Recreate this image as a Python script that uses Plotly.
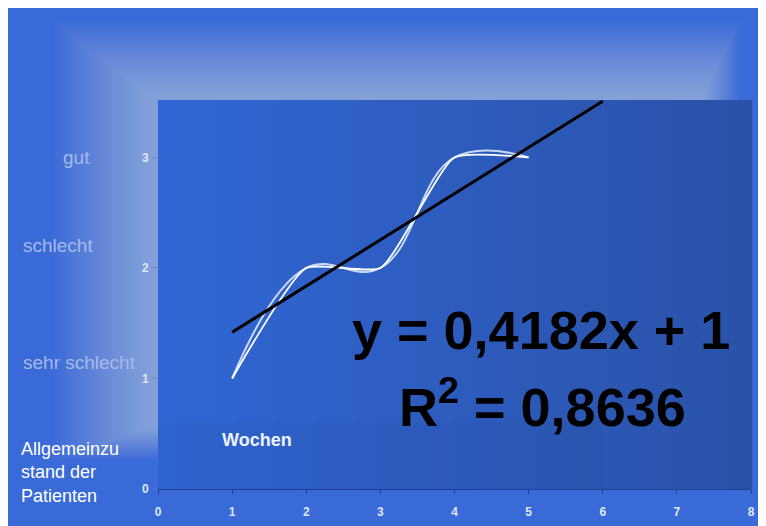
import plotly.graph_objects as go

# ---- data ----
weeks = [1, 2, 3, 4, 5]
condition = [1, 2, 2, 3, 3]
trend_x = [1, 6]
slope, intercept = 0.4182, 1
trend_y = [slope * v + intercept for v in trend_x]
x_ticks = [0, 1, 2, 3, 4, 5, 6, 7, 8]
y_ticks = [0, 1, 2, 3]
state_labels = ["gut", "schlecht", "sehr schlecht"]
equation_text = "y = 0,4182x + 1"
r2_text = "R<sup>2</sup> = 0,8636"

OFF = 8                      # page body margin
W, H = 766 - OFF, 526 - OFF  # figure size
PL, PR, PT, PB = 158, 751, 100, 489   # plot area in screen pixels
L, T = PL - OFF, PT - OFF
R, B = W - (PR - OFF), H - (PB - OFF)
PW, PH = PR - PL, PB - PT


def px(x):
    return (x - PL) / PW


def py(y):
    return (PB - y) / PH


def lerp(c1, c2, t):
    a = [int(c1[i:i + 2], 16) for i in (1, 3, 5)]
    b = [int(c2[i:i + 2], 16) for i in (1, 3, 5)]
    return "#" + "".join(f"{round(a[k] + (b[k] - a[k]) * t):02x}" for k in range(3))


shapes = []
# slide background
shapes.append(dict(type="rect", xref="paper", yref="paper", x0=px(0), x1=px(800),
                   y0=py(0), y1=py(560), fillcolor="#3a6ad8", line_width=0, layer="below"))
# halo glow above / left of plot area
N = 30
for i in range(N):
    t = (i + 1) / N
    shapes.append(dict(type="rect", xref="paper", yref="paper",
                       x0=px(158 - 105 * t), x1=px(700 + 40 * t),
                       y0=py(100 - 80 * t), y1=py(425 + 35 * t),
                       fillcolor="#ffffff", opacity=0.018, line_width=0, layer="below"))
# plot area horizontal gradient
S = 30
for i in range(S):
    t = i / (S - 1)
    shapes.append(dict(type="rect", xref="paper", yref="paper",
                       x0=i / S, x1=(i + 1) / S + 0.002, y0=0, y1=1,
                       fillcolor=lerp("#3166d4", "#2a52a8", t), line_width=0, layer="below"))
# darker band at bottom of plot area
shapes.append(dict(type="rect", xref="paper", yref="paper", x0=0, x1=0.75, y0=0, y1=py(422),
                   fillcolor="#1a3a90", opacity=0.08, line_width=0, layer="below"))

fig = go.Figure()
fig.add_trace(go.Scatter(x=weeks, y=condition, mode="lines",
                         line=dict(color="#c9d8f6", width=2, shape="spline", smoothing=1.2),
                         hoverinfo="skip"))
fig.add_trace(go.Scatter(x=weeks, y=condition, mode="lines",
                         line=dict(color="#ffffff", width=1.8, shape="spline", smoothing=0.5),
                         hoverinfo="skip"))
fig.add_trace(go.Scatter(x=trend_x, y=trend_y, mode="lines",
                         line=dict(color="#000000", width=3), hoverinfo="skip"))

annotations = []
for lab, (xx, yy) in zip(state_labels, [(76, 157), (58, 245), (79, 362)]):
    annotations.append(dict(text=lab, xref="paper", yref="paper", x=px(xx), y=py(yy),
                            xanchor="center", yanchor="middle", showarrow=False,
                            font=dict(family="Liberation Sans, Arial", size=19, color="#a6b9ea")))
annotations.append(dict(text="Allgemeinzu<br>stand der<br>Patienten", xref="paper", yref="paper",
                        x=px(19), y=py(472), xanchor="left", yanchor="middle", align="left",
                        showarrow=False,
                        font=dict(family="Liberation Sans, Arial", size=18, color="#ffffff")))
annotations.append(dict(text="<b>Wochen</b>", xref="paper", yref="paper", x=px(257), y=py(440),
                        xanchor="center", yanchor="middle", showarrow=False,
                        font=dict(family="Liberation Sans, Arial", size=18, color="#eef3ff")))
annotations.append(dict(text=f"<b>{equation_text}</b>", xref="paper", yref="paper",
                        x=px(541), y=py(330), xanchor="center", yanchor="middle", showarrow=False,
                        font=dict(family="Liberation Sans, Arial", size=54, color="#000000")))
annotations.append(dict(text=f"<b>{r2_text}</b>", xref="paper", yref="paper",
                        x=px(542), y=py(403), xanchor="center", yanchor="middle", showarrow=False,
                        font=dict(family="Liberation Sans, Arial", size=54, color="#000000")))

tickfont = dict(family="Liberation Sans, Arial", size=12, color="#dfe7fb", weight="bold")
fig.update_layout(
    width=W, height=H,
    margin=dict(l=L, r=R, t=T, b=B, pad=0, autoexpand=False),
    paper_bgcolor="#3a6ad8", plot_bgcolor="rgba(0,0,0,0)",
    showlegend=False,
    shapes=shapes,
    annotations=annotations,
    xaxis=dict(range=[0, 8], tickvals=x_ticks, ticktext=[str(v) for v in x_ticks],
               showgrid=False, zeroline=False, showline=True, linecolor="#1f3f95", linewidth=1,
               ticks="outside", ticklen=4, tickcolor="#1f3f95", tickfont=tickfont,
               ticklabelstandoff=8, automargin=False),
    yaxis=dict(range=[0, 3.52], tickvals=y_ticks, ticktext=[str(v) for v in y_ticks],
               showgrid=False, zeroline=False, showline=False,
               ticks="outside", ticklen=4, tickcolor="#5a7fd8", tickfont=tickfont,
               ticklabelstandoff=2, automargin=False),
)

fig.write_html("out.html")
